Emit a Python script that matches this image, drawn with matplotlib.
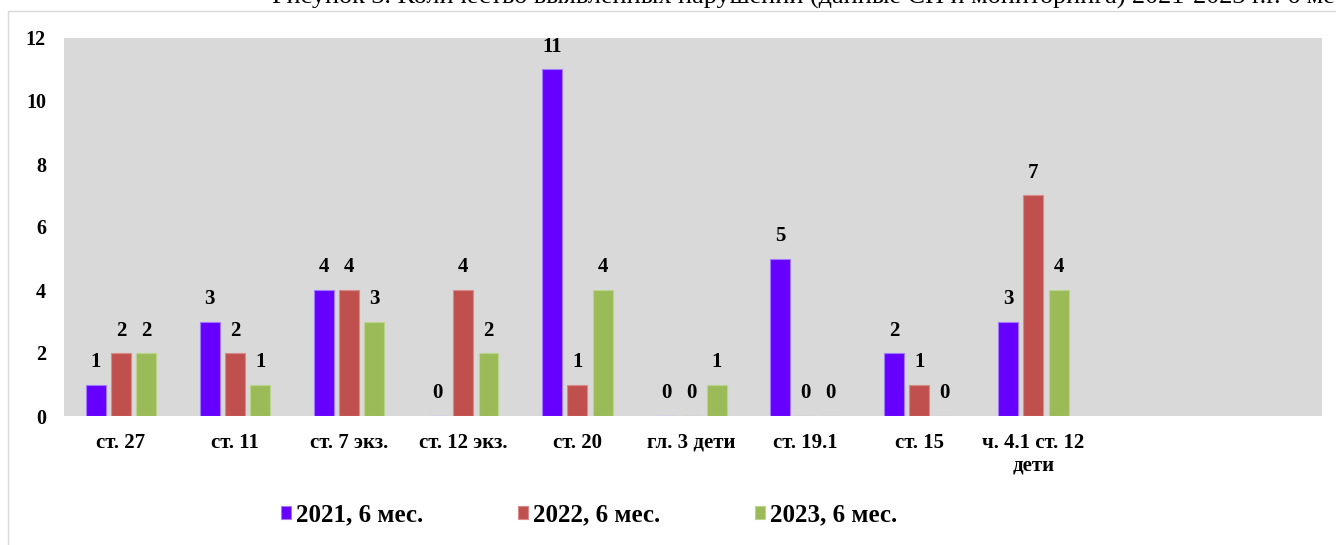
import numpy as np
import matplotlib
matplotlib.use("Agg")
import matplotlib.pyplot as plt
from matplotlib.patches import Rectangle

plt.rcParams['font.family'] = ['Liberation Serif', 'DejaVu Serif']

# data
categories = ['ст. 27', 'ст. 11', 'ст. 7 экз.', 'ст. 12 экз.', 'ст. 20',
              'гл. 3 дети', 'ст. 19.1', 'ст. 15', 'ч. 4.1 ст. 12\nдети']
series_names = ['2021, 6 мес.', '2022, 6 мес.', '2023, 6 мес.']
vals_2021 = [1, 3, 4, 0, 11, 0, 5, 2, 3]
vals_2022 = [2, 2, 4, 4, 1, 0, 0, 1, 7]
vals_2023 = [2, 1, 3, 2, 4, 1, 0, 0, 4]
colors = ['#6600FF', '#C0504D', '#9BBB59']
edges = ['#A27AFF', '#D88A88', '#BCD58E']
yticks = [0, 2, 4, 6, 8, 10, 12]

title = ('Рисунок 3. Количество выявленных нарушений (данные СП и мониторинга) '
         '2021-2023 г.г. 6 месяцев')

fig = plt.figure(figsize=(13.36, 5.45), dpi=100)

# outer chart frame (partly off-canvas like in the source)
fig.patches.append(Rectangle((8 / 1336, -0.2), 1.3, 1.2 - 11 / 545,
                             transform=fig.transFigure, fill=False,
                             edgecolor='#D9D9D9', lw=1.0, zorder=0))

# caption sits above the frame and is cut by the page edge in the source
fig.text(272 / 1336, 1 - 4 / 545, title, fontsize=18.8, va='baseline', ha='left')

ax = fig.add_axes([64 / 1336, 129 / 545, (1322 - 64) / 1336, (416 - 38) / 545])
ax.set_facecolor('#D9D9D9')

x = np.arange(len(categories))
step = 0.222
width = 0.175
all_vals = [vals_2021, vals_2022, vals_2023]
for i, vals in enumerate(all_vals):
    pos = x + (i - 1) * step
    bars = ax.bar(pos, vals, width=width, color=colors[i], edgecolor=edges[i],
                  linewidth=0.8, label=series_names[i], zorder=2)
    for b, v in zip(bars, vals):
        ax.annotate(str(v), (b.get_x() + b.get_width() / 2, v),
                    xytext=(0, 9), textcoords='offset points',
                    ha='center', va='bottom', fontsize=15, fontweight='bold')

ax.set_xlim(-0.5, 10.53)
ax.set_ylim(0, 12)
ax.set_yticks(yticks)
ax.set_yticklabels([str(t) for t in yticks], fontsize=14.5, fontweight='bold')
ax.set_xticks(x)
ax.set_xticklabels(categories, fontsize=15, fontweight='bold')
ax.tick_params(axis='both', length=0)
ax.tick_params(axis='y', pad=13)
ax.tick_params(axis='x', pad=12)
for s in ax.spines.values():
    s.set_visible(False)

fig.legend(loc='center', bbox_to_anchor=(589 / 1336, 30 / 545), ncol=3,
           frameon=False, prop={'size': 18, 'weight': 'bold'},
           handlelength=0.4, handleheight=0.4, handletextpad=0.2,
           columnspacing=3.8)

fig.savefig('out.png', dpi=100)
